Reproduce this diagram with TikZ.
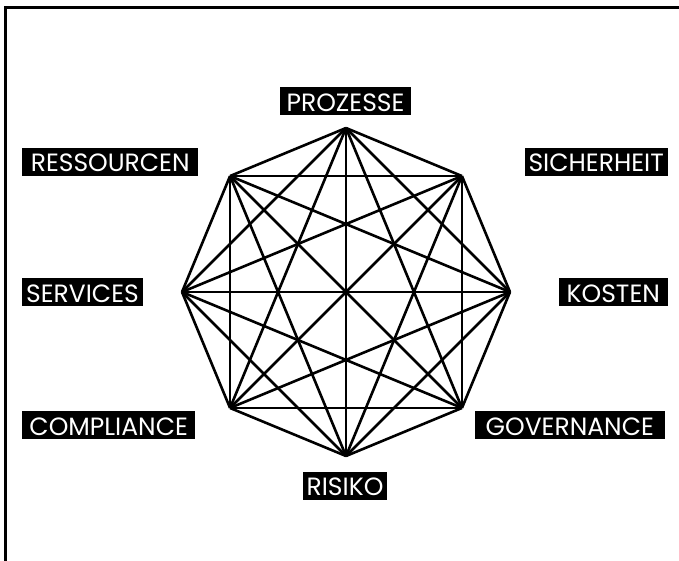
\documentclass[tikz,border=0pt]{standalone}
\usepackage{fontspec}
\setmainfont{Poppins}
\begin{document}
\begin{tikzpicture}[x=1pt,y=-1pt,
  lbl/.style={fill=black,text=white,font=\fontsize{25}{26}\selectfont,inner xsep=4pt,inner ysep=2pt,text height=22pt,text depth=2pt},
  edge/.style={line width=2.6pt,line join=round}]
\useasboundingbox (0,0) rectangle (679,560);
\draw[line width=3pt] (5.5,7.5) rectangle (700,580);
\foreach \i/\a in {1/270,2/315,3/0,4/45,5/90,6/135,7/180,8/225}
  \coordinate (v\i) at ([shift={(346,292)}]\a:164);
\foreach \i in {1,...,8}{
  \foreach \j in {1,...,8}{
    \ifnum\i<\j \draw[edge] (v\i) -- (v\j); \fi
  }
}
\node[lbl,minimum width=131pt] (prozesse) at (345.5,101) {PROZESSE};
\node[lbl,anchor=east,minimum width=143pt] (sicherheit) at (668,161.5) {SICHERHEIT};
\node[lbl,anchor=east,minimum width=109pt] (kosten) at (668,292) {KOSTEN};
\node[lbl,anchor=east,minimum width=190pt] (governance) at (665,425) {GOVERNANCE};
\node[lbl,minimum width=82pt] (risiko) at (345,485.5) {RISIKO};
\node[lbl,anchor=west,minimum width=173pt] (compliance) at (22,425) {COMPLIANCE};
\node[lbl,anchor=west,text width=113pt,align=left] (services) at (22,292) {SERVICES};
\node[lbl,anchor=west,minimum width=176pt] (ressourcen) at (22,161.5) {RESSOURCEN};
\end{tikzpicture}
\end{document}
